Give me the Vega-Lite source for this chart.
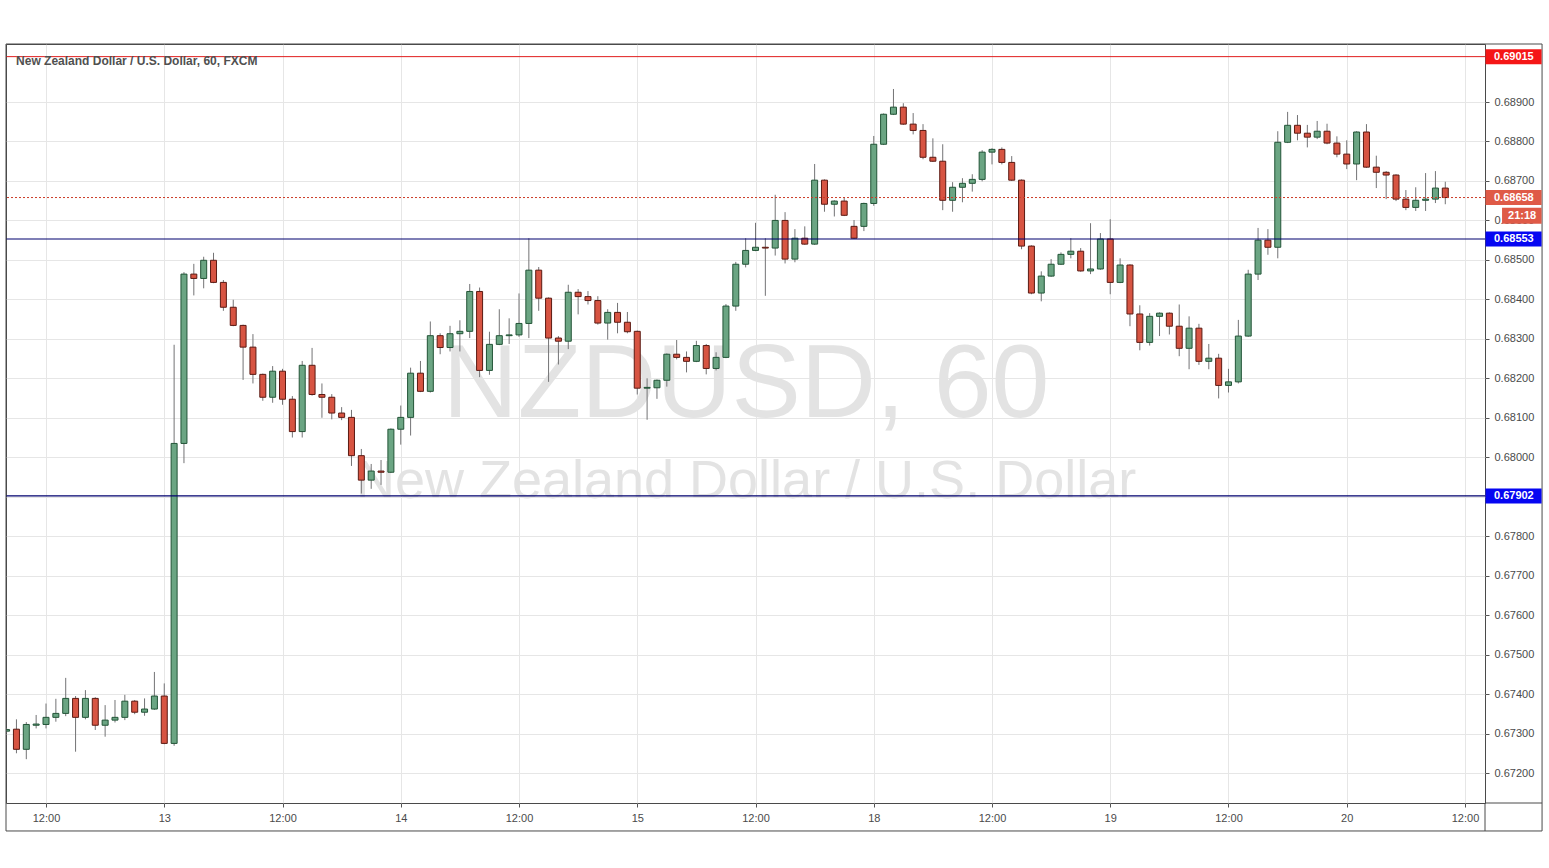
{
"$schema":"https://vega.github.io/schema/vega-lite/v6.json",
"width":1479,"height":759,
"autosize":{"type":"none"},
"padding":{"left":6,"top":44,"right":64,"bottom":65},
"background":"#ffffff",
"config":{"view":{"stroke":"#4a4a4a","strokeWidth":1},"font":"Liberation Sans"},
"datasets":{
"bars":[
{"i":-4,"o":0.67306,"h":0.67314,"l":0.67302,"c":0.67310},
{"i":-3,"o":0.67311,"h":0.67336,"l":0.67250,"c":0.67260},
{"i":-2,"o":0.67260,"h":0.67329,"l":0.67235,"c":0.67323},
{"i":-1,"o":0.67321,"h":0.67347,"l":0.67313,"c":0.67324},
{"i":0,"o":0.67323,"h":0.67376,"l":0.67313,"c":0.67341},
{"i":1,"o":0.67341,"h":0.67388,"l":0.67330,"c":0.67351},
{"i":2,"o":0.67351,"h":0.67441,"l":0.67344,"c":0.67389},
{"i":3,"o":0.67389,"h":0.67395,"l":0.67254,"c":0.67341},
{"i":4,"o":0.67341,"h":0.67410,"l":0.67336,"c":0.67389},
{"i":5,"o":0.67389,"h":0.67392,"l":0.67309,"c":0.67321},
{"i":6,"o":0.67321,"h":0.67372,"l":0.67292,"c":0.67334},
{"i":7,"o":0.67334,"h":0.67385,"l":0.67328,"c":0.67341},
{"i":8,"o":0.67341,"h":0.67398,"l":0.67334,"c":0.67382},
{"i":9,"o":0.67382,"h":0.67385,"l":0.67349,"c":0.67354},
{"i":10,"o":0.67354,"h":0.67389,"l":0.67345,"c":0.67362},
{"i":11,"o":0.67362,"h":0.67456,"l":0.67360,"c":0.67395},
{"i":12,"o":0.67395,"h":0.67427,"l":0.67273,"c":0.67275},
{"i":13,"o":0.67275,"h":0.68285,"l":0.67269,"c":0.68035},
{"i":14,"o":0.68035,"h":0.68469,"l":0.67985,"c":0.68464},
{"i":15,"o":0.68464,"h":0.68490,"l":0.68410,"c":0.68453},
{"i":16,"o":0.68453,"h":0.68508,"l":0.68428,"c":0.68499},
{"i":17,"o":0.68499,"h":0.68518,"l":0.68441,"c":0.68443},
{"i":18,"o":0.68443,"h":0.68449,"l":0.68371,"c":0.68380},
{"i":19,"o":0.68380,"h":0.68399,"l":0.68332,"c":0.68334},
{"i":20,"o":0.68334,"h":0.68336,"l":0.68196,"c":0.68279},
{"i":21,"o":0.68279,"h":0.68312,"l":0.68187,"c":0.68210},
{"i":22,"o":0.68210,"h":0.68212,"l":0.68143,"c":0.68152},
{"i":23,"o":0.68152,"h":0.68231,"l":0.68138,"c":0.68218},
{"i":24,"o":0.68218,"h":0.68224,"l":0.68133,"c":0.68147},
{"i":25,"o":0.68147,"h":0.68155,"l":0.68050,"c":0.68065},
{"i":26,"o":0.68065,"h":0.68244,"l":0.68050,"c":0.68233},
{"i":27,"o":0.68233,"h":0.68277,"l":0.68156,"c":0.68159},
{"i":28,"o":0.68159,"h":0.68187,"l":0.68100,"c":0.68152},
{"i":29,"o":0.68152,"h":0.68160,"l":0.68096,"c":0.68112},
{"i":30,"o":0.68112,"h":0.68127,"l":0.68094,"c":0.68101},
{"i":31,"o":0.68101,"h":0.68120,"l":0.67978,"c":0.68004},
{"i":32,"o":0.68004,"h":0.68021,"l":0.67908,"c":0.67942},
{"i":33,"o":0.67942,"h":0.67983,"l":0.67920,"c":0.67965},
{"i":34,"o":0.67965,"h":0.67993,"l":0.67930,"c":0.67962},
{"i":35,"o":0.67962,"h":0.68073,"l":0.67960,"c":0.68071},
{"i":36,"o":0.68071,"h":0.68131,"l":0.68032,"c":0.68101},
{"i":37,"o":0.68101,"h":0.68227,"l":0.68055,"c":0.68213},
{"i":38,"o":0.68213,"h":0.68244,"l":0.68165,"c":0.68167},
{"i":39,"o":0.68167,"h":0.68344,"l":0.68164,"c":0.68308},
{"i":40,"o":0.68308,"h":0.68314,"l":0.68261,"c":0.68278},
{"i":41,"o":0.68278,"h":0.68333,"l":0.68268,"c":0.68313},
{"i":42,"o":0.68313,"h":0.68347,"l":0.68268,"c":0.68319},
{"i":43,"o":0.68319,"h":0.68439,"l":0.68302,"c":0.68420},
{"i":44,"o":0.68420,"h":0.68430,"l":0.68203,"c":0.68220},
{"i":45,"o":0.68220,"h":0.68318,"l":0.68209,"c":0.68286},
{"i":46,"o":0.68286,"h":0.68375,"l":0.68284,"c":0.68308},
{"i":47,"o":0.68308,"h":0.68352,"l":0.68287,"c":0.68310},
{"i":48,"o":0.68310,"h":0.68415,"l":0.68305,"c":0.68339},
{"i":49,"o":0.68339,"h":0.68555,"l":0.68302,"c":0.68474},
{"i":50,"o":0.68474,"h":0.68482,"l":0.68371,"c":0.68403},
{"i":51,"o":0.68403,"h":0.68405,"l":0.68191,"c":0.68302},
{"i":52,"o":0.68302,"h":0.68307,"l":0.68235,"c":0.68294},
{"i":53,"o":0.68294,"h":0.68437,"l":0.68274,"c":0.68418},
{"i":54,"o":0.68418,"h":0.68426,"l":0.68362,"c":0.68407},
{"i":55,"o":0.68407,"h":0.68421,"l":0.68387,"c":0.68397},
{"i":56,"o":0.68397,"h":0.68408,"l":0.68336,"c":0.68340},
{"i":57,"o":0.68340,"h":0.68375,"l":0.68298,"c":0.68367},
{"i":58,"o":0.68367,"h":0.68391,"l":0.68314,"c":0.68342},
{"i":59,"o":0.68342,"h":0.68368,"l":0.68314,"c":0.68318},
{"i":60,"o":0.68319,"h":0.68321,"l":0.68159,"c":0.68175},
{"i":61,"o":0.68175,"h":0.68200,"l":0.68095,"c":0.68177},
{"i":62,"o":0.68176,"h":0.68197,"l":0.68148,"c":0.68195},
{"i":63,"o":0.68195,"h":0.68263,"l":0.68179,"c":0.68261},
{"i":64,"o":0.68261,"h":0.68297,"l":0.68248,"c":0.68253},
{"i":65,"o":0.68253,"h":0.68268,"l":0.68215,"c":0.68243},
{"i":66,"o":0.68243,"h":0.68295,"l":0.68241,"c":0.68283},
{"i":67,"o":0.68283,"h":0.68287,"l":0.68210,"c":0.68225},
{"i":68,"o":0.68225,"h":0.68266,"l":0.68220,"c":0.68253},
{"i":69,"o":0.68253,"h":0.68388,"l":0.68251,"c":0.68383},
{"i":70,"o":0.68383,"h":0.68495,"l":0.68371,"c":0.68489},
{"i":71,"o":0.68489,"h":0.68555,"l":0.68481,"c":0.68524},
{"i":72,"o":0.68524,"h":0.68594,"l":0.68522,"c":0.68532},
{"i":73,"o":0.68532,"h":0.68555,"l":0.68409,"c":0.68530},
{"i":74,"o":0.68530,"h":0.68665,"l":0.68511,"c":0.68600},
{"i":75,"o":0.68600,"h":0.68621,"l":0.68491,"c":0.68502},
{"i":76,"o":0.68502,"h":0.68578,"l":0.68494,"c":0.68555},
{"i":77,"o":0.68555,"h":0.68585,"l":0.68538,"c":0.68540},
{"i":78,"o":0.68540,"h":0.68743,"l":0.68538,"c":0.68702},
{"i":79,"o":0.68702,"h":0.68704,"l":0.68622,"c":0.68641},
{"i":80,"o":0.68641,"h":0.68651,"l":0.68610,"c":0.68649},
{"i":81,"o":0.68649,"h":0.68659,"l":0.68611,"c":0.68613},
{"i":82,"o":0.68585,"h":0.68601,"l":0.68553,"c":0.68555},
{"i":83,"o":0.68585,"h":0.68645,"l":0.68573,"c":0.68643},
{"i":84,"o":0.68643,"h":0.68814,"l":0.68637,"c":0.68793},
{"i":85,"o":0.68793,"h":0.68871,"l":0.68791,"c":0.68869},
{"i":86,"o":0.68869,"h":0.68933,"l":0.68867,"c":0.68887},
{"i":87,"o":0.68887,"h":0.68897,"l":0.68842,"c":0.68844},
{"i":88,"o":0.68844,"h":0.68872,"l":0.68818,"c":0.68828},
{"i":89,"o":0.68828,"h":0.68844,"l":0.68755,"c":0.68760},
{"i":90,"o":0.68760,"h":0.68808,"l":0.68748,"c":0.68750},
{"i":91,"o":0.68750,"h":0.68793,"l":0.68626,"c":0.68651},
{"i":92,"o":0.68651,"h":0.68697,"l":0.68622,"c":0.68684},
{"i":93,"o":0.68684,"h":0.68707,"l":0.68646,"c":0.68694},
{"i":94,"o":0.68694,"h":0.68717,"l":0.68673,"c":0.68704},
{"i":95,"o":0.68704,"h":0.68778,"l":0.68699,"c":0.68773},
{"i":96,"o":0.68773,"h":0.68783,"l":0.68742,"c":0.68780},
{"i":97,"o":0.68780,"h":0.68785,"l":0.68742,"c":0.68747},
{"i":98,"o":0.68747,"h":0.68763,"l":0.68700,"c":0.68702},
{"i":99,"o":0.68702,"h":0.68704,"l":0.68527,"c":0.68535},
{"i":100,"o":0.68535,"h":0.68537,"l":0.68413,"c":0.68416},
{"i":101,"o":0.68416,"h":0.68471,"l":0.68395,"c":0.68459},
{"i":102,"o":0.68459,"h":0.68502,"l":0.68457,"c":0.68489},
{"i":103,"o":0.68489,"h":0.68519,"l":0.68487,"c":0.68514},
{"i":104,"o":0.68514,"h":0.68555,"l":0.68504,"c":0.68522},
{"i":105,"o":0.68522,"h":0.68530,"l":0.68470,"c":0.68472},
{"i":106,"o":0.68472,"h":0.68593,"l":0.68464,"c":0.68477},
{"i":107,"o":0.68477,"h":0.68568,"l":0.68475,"c":0.68553},
{"i":108,"o":0.68553,"h":0.68603,"l":0.68413,"c":0.68443},
{"i":109,"o":0.68443,"h":0.68504,"l":0.68441,"c":0.68487},
{"i":110,"o":0.68487,"h":0.68489,"l":0.68332,"c":0.68363},
{"i":111,"o":0.68363,"h":0.68385,"l":0.68271,"c":0.68291},
{"i":112,"o":0.68291,"h":0.68365,"l":0.68283,"c":0.68357},
{"i":113,"o":0.68357,"h":0.68367,"l":0.68307,"c":0.68365},
{"i":114,"o":0.68365,"h":0.68367,"l":0.68311,"c":0.68332},
{"i":115,"o":0.68332,"h":0.68387,"l":0.68256,"c":0.68276},
{"i":116,"o":0.68276,"h":0.68357,"l":0.68223,"c":0.68327},
{"i":117,"o":0.68327,"h":0.68338,"l":0.68234,"c":0.68243},
{"i":118,"o":0.68243,"h":0.68287,"l":0.68223,"c":0.68251},
{"i":119,"o":0.68251,"h":0.68262,"l":0.68149,"c":0.68182},
{"i":120,"o":0.68182,"h":0.68224,"l":0.68164,"c":0.68191},
{"i":121,"o":0.68191,"h":0.68348,"l":0.68187,"c":0.68307},
{"i":122,"o":0.68307,"h":0.68475,"l":0.68305,"c":0.68464},
{"i":123,"o":0.68464,"h":0.68581,"l":0.68449,"c":0.68550},
{"i":124,"o":0.68550,"h":0.68578,"l":0.68513,"c":0.68532},
{"i":125,"o":0.68532,"h":0.68826,"l":0.68504,"c":0.68798},
{"i":126,"o":0.68798,"h":0.68875,"l":0.68796,"c":0.68841},
{"i":127,"o":0.68841,"h":0.68867,"l":0.68803,"c":0.68821},
{"i":128,"o":0.68821,"h":0.68842,"l":0.68785,"c":0.68811},
{"i":129,"o":0.68811,"h":0.68852,"l":0.68806,"c":0.68826},
{"i":130,"o":0.68826,"h":0.68845,"l":0.68793,"c":0.68796},
{"i":131,"o":0.68796,"h":0.68813,"l":0.68760,"c":0.68768},
{"i":132,"o":0.68768,"h":0.68803,"l":0.68730,"c":0.68743},
{"i":133,"o":0.68743,"h":0.68826,"l":0.68702,"c":0.68824},
{"i":134,"o":0.68824,"h":0.68844,"l":0.68733,"c":0.68735},
{"i":135,"o":0.68735,"h":0.68764,"l":0.68682,"c":0.68722},
{"i":136,"o":0.68722,"h":0.68725,"l":0.68654,"c":0.68715},
{"i":137,"o":0.68715,"h":0.68717,"l":0.68649,"c":0.68654},
{"i":138,"o":0.68654,"h":0.68677,"l":0.68626,"c":0.68633},
{"i":139,"o":0.68633,"h":0.68684,"l":0.68624,"c":0.68651},
{"i":140,"o":0.68651,"h":0.68720,"l":0.68624,"c":0.68654},
{"i":141,"o":0.68654,"h":0.68725,"l":0.68644,"c":0.68682},
{"i":142,"o":0.68682,"h":0.68698,"l":0.68641,"c":0.68658}
],
"levels":[
{"kind":"res","p":0.69015},
{"kind":"sup","p":0.68553},
{"kind":"sup","p":0.67902},
{"kind":"last","p":0.68658}
],
"tags":[
{"kind":"res","p":0.69015,"label":"0.69015"},
{"kind":"last","p":0.68658,"label":"0.68658"},
{"kind":"sup","p":0.68553,"label":"0.68553"},
{"kind":"sup","p":0.67902,"label":"0.67902"}
],
"timer":[{"p":0.68612,"label":"21:18"}]
},
"layer":[
{"data":{"values":[{"t":"NZDUSD, 60"}]},
 "mark":{"type":"text","fontSize":104,"color":"#e3e3e3","align":"center","baseline":"alphabetic"},
 "encoding":{
  "x":{"datum":71.04,"type":"quantitative","scale":{"domain":[-4.06,146.03],"nice":false,"zero":false,"padding":0},
   "axis":{"orient":"bottom","values":[0,12,24,36,48,60,72,84,96,108,120,132,144],
    "labelExpr":"['12:00','13','12:00','14','12:00','15','12:00','18','12:00','19','12:00','20','12:00'][round(datum.value/12)]",
    "grid":true,"gridColor":"#e6e6e6","domain":false,"ticks":true,"tickColor":"#555555","tickSize":4,
    "labelPadding":5,"labelFontSize":11,"labelColor":"#4a4a4a","labelFont":"Liberation Sans","title":null,"labelFlush":false,"labelOverlap":false}},
  "y":{"datum":0.68102,"type":"quantitative","scale":{"domain":[0.67124,0.69047],"nice":false,"zero":false,"padding":0},
   "axis":{"orient":"right","values":[0.672,0.673,0.674,0.675,0.676,0.677,0.678,0.679,0.68,0.681,0.682,0.683,0.684,0.685,0.686,0.687,0.688,0.689],
    "format":".5f","grid":true,"gridColor":"#e6e6e6","domain":false,"tickSize":4,"tickColor":"#555555",
    "labelPadding":5,"labelFontSize":11,"labelColor":"#4a4a4a","labelFont":"Liberation Sans","title":null,"labelFlush":false,"labelOverlap":false}},
  "text":{"field":"t"}}},
{"data":{"values":[{"t":"New Zealand Dollar / U.S. Dollar"}]},
 "mark":{"type":"text","fontSize":54,"color":"#e3e3e3","align":"center","baseline":"alphabetic"},
 "encoding":{
  "x":{"datum":71.04,"type":"quantitative","scale":{"domain":[-4.06,146.03],"nice":false,"zero":false,"padding":0}},
  "y":{"datum":0.67896,"type":"quantitative","scale":{"domain":[0.67124,0.69047],"nice":false,"zero":false,"padding":0}},
  "text":{"field":"t"}}},
{"data":{"name":"bars"},
 "mark":{"type":"rule","color":"#737375","strokeWidth":1,"clip":true},
 "encoding":{
  "x":{"field":"i","type":"quantitative","scale":{"domain":[-4.06,146.03],"nice":false,"zero":false,"padding":0}},
  "y":{"field":"l","type":"quantitative","scale":{"domain":[0.67124,0.69047],"nice":false,"zero":false,"padding":0}},
  "y2":{"field":"h"}}},
{"data":{"name":"bars"},
 "mark":{"type":"bar","orient":"vertical","size":6,"strokeWidth":1,"clip":true},
 "encoding":{
  "x":{"field":"i","type":"quantitative","scale":{"domain":[-4.06,146.03],"nice":false,"zero":false,"padding":0}},
  "y":{"field":"o","type":"quantitative","scale":{"domain":[0.67124,0.69047],"nice":false,"zero":false,"padding":0}},
  "y2":{"field":"c"},
  "color":{"condition":{"test":"datum.c >= datum.o","value":"#6ba583"},"value":"#d75442"},
  "stroke":{"condition":{"test":"datum.c >= datum.o","value":"#225437"},"value":"#5b1a13"}}},
{"data":{"name":"levels"},
 "transform":[{"filter":"datum.kind == 'res'"}],
 "mark":{"type":"rule","color":"#e01d1d","strokeWidth":1,"clip":true},
 "encoding":{"y":{"field":"p","type":"quantitative","scale":{"domain":[0.67124,0.69047],"nice":false,"zero":false,"padding":0}}}},
{"data":{"name":"levels"},
 "transform":[{"filter":"datum.kind == 'sup'"}],
 "mark":{"type":"rule","color":"#00006e","strokeWidth":1.2,"clip":true},
 "encoding":{"y":{"field":"p","type":"quantitative","scale":{"domain":[0.67124,0.69047],"nice":false,"zero":false,"padding":0}}}},
{"data":{"name":"levels"},
 "transform":[{"filter":"datum.kind == 'last'"}],
 "mark":{"type":"rule","color":"#cc3b28","strokeWidth":1,"strokeDash":[2,2],"clip":true},
 "encoding":{"y":{"field":"p","type":"quantitative","scale":{"domain":[0.67124,0.69047],"nice":false,"zero":false,"padding":0}}}},
{"data":{"values":[{"t":"New Zealand Dollar / U.S. Dollar, 60, FXCM"}]},
 "mark":{"type":"text","fontSize":12,"fontWeight":"bold","color":"#505050","align":"left","baseline":"middle"},
 "encoding":{
  "x":{"datum":-3.04,"type":"quantitative","scale":{"domain":[-4.06,146.03],"nice":false,"zero":false,"padding":0}},
  "y":{"datum":0.69003,"type":"quantitative","scale":{"domain":[0.67124,0.69047],"nice":false,"zero":false,"padding":0}},
  "text":{"field":"t"}}},
{"data":{"values":[{}]},
 "mark":{"type":"rect","fill":"transparent","stroke":"#4a4a4a","strokeWidth":1,"clip":false},
 "encoding":{
  "x":{"datum":-4.06,"type":"quantitative","scale":{"domain":[-4.06,146.03],"nice":false,"zero":false,"padding":0}},
  "x2":{"datum":151.82},
  "y":{"datum":0.670531,"type":"quantitative","scale":{"domain":[0.67124,0.69047],"nice":false,"zero":false,"padding":0}},
  "y2":{"datum":0.69047}}},
{"data":{"values":[{}]},
 "mark":{"type":"rule","color":"#4a4a4a","strokeWidth":1,"clip":false},
 "encoding":{
  "x":{"datum":146.03,"type":"quantitative","scale":{"domain":[-4.06,146.03],"nice":false,"zero":false,"padding":0}},
  "y":{"datum":0.670531,"type":"quantitative","scale":{"domain":[0.67124,0.69047],"nice":false,"zero":false,"padding":0}},
  "y2":{"datum":0.67124}}},
{"data":{"values":[{}]},
 "mark":{"type":"rule","color":"#4a4a4a","strokeWidth":1,"clip":false},
 "encoding":{
  "x":{"datum":146.03,"type":"quantitative","scale":{"domain":[-4.06,146.03],"nice":false,"zero":false,"padding":0}},
  "x2":{"datum":151.82},
  "y":{"datum":0.67124,"type":"quantitative","scale":{"domain":[0.67124,0.69047],"nice":false,"zero":false,"padding":0}}}},
{"data":{"name":"tags"},
 "mark":{"type":"bar","orient":"horizontal","size":15,"clip":false},
 "encoding":{
  "x":{"datum":146.08,"type":"quantitative","scale":{"domain":[-4.06,146.03],"nice":false,"zero":false,"padding":0}},
  "x2":{"datum":151.77},
  "y":{"field":"p","type":"quantitative","scale":{"domain":[0.67124,0.69047],"nice":false,"zero":false,"padding":0}},
  "color":{"field":"kind","type":"nominal","scale":{"domain":["res","last","sup"],"range":["#f51616","#df5a47","#0606f2"]},"legend":null}}},
{"data":{"name":"timer"},
 "mark":{"type":"bar","orient":"horizontal","size":16,"color":"#df5a47","clip":false},
 "encoding":{
  "x":{"datum":147.76,"type":"quantitative","scale":{"domain":[-4.06,146.03],"nice":false,"zero":false,"padding":0}},
  "x2":{"datum":151.77},
  "y":{"field":"p","type":"quantitative","scale":{"domain":[0.67124,0.69047],"nice":false,"zero":false,"padding":0}}}},
{"data":{"name":"tags"},
 "mark":{"type":"text","fontSize":11,"fontWeight":"bold","color":"#ffffff","align":"left","baseline":"middle","clip":false},
 "encoding":{
  "x":{"datum":146.94,"type":"quantitative","scale":{"domain":[-4.06,146.03],"nice":false,"zero":false,"padding":0}},
  "y":{"field":"p","type":"quantitative","scale":{"domain":[0.67124,0.69047],"nice":false,"zero":false,"padding":0}},
  "text":{"field":"label"}}},
{"data":{"name":"timer"},
 "mark":{"type":"text","fontSize":11,"fontWeight":"bold","color":"#ffffff","align":"center","baseline":"middle","clip":false},
 "encoding":{
  "x":{"datum":149.8,"type":"quantitative","scale":{"domain":[-4.06,146.03],"nice":false,"zero":false,"padding":0}},
  "y":{"field":"p","type":"quantitative","scale":{"domain":[0.67124,0.69047],"nice":false,"zero":false,"padding":0}},
  "text":{"field":"label"}}}
]
}
